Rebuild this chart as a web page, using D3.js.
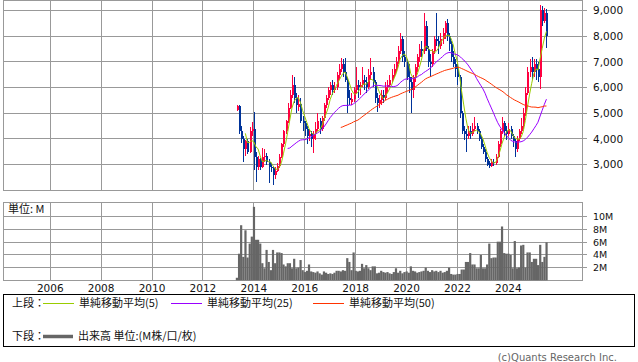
<!DOCTYPE html>
<html><head><meta charset="utf-8">
<script src="https://cdn.jsdelivr.net/npm/d3@7"></script>
<style>body{margin:0;background:#fff}svg{display:block}</style>
</head><body><svg id="c" width="638" height="362"></svg>
<script>
// monthly bars, first = May 2013
const startYear = 2013, startMonth = 4;
const open = [
5130,5270,4300,4000,3600,3900,3500,4300,4400,3300,
2900,3200,2900,3300,3350,3100,2900,2850,2600,2750,
2950,3300,3800,4300,4700,5200,5700,6100,5600,5250,
5350,4700,4600,4400,4100,4200,4000,4200,4400,4700,
4400,4800,5300,5600,5900,6100,5900,6000,6500,6700,
6900,6600,6300,5600,5450,5550,5900,6100,6000,6100,
6300,6200,6000,6500,6600,6200,5600,5400,5500,5700,
5600,6000,6100,6300,6500,6700,7000,7400,7900,7200,
7000,6400,6200,5900,6400,6800,7200,7500,7400,8400,
7500,7000,6900,7400,7900,7800,7600,7900,8100,8500,
8000,7700,7200,6900,6700,6400,5000,4300,4200,4100,
4300,4200,4400,4500,4300,4000,3700,3500,3200,3050,
2950,3100,3050,3300,3800,4300,4600,4300,4200,4400,
4100,3900,3600,4000,4300,4500,5000,5800,6600,6800,
6600,6900,6700,6400,9000,8600,8900];
const high = [
5300,5320,4500,4100,3950,4000,4450,4650,5050,3500,
3350,3250,3640,3600,3450,3200,3050,2950,2900,3050,
3400,3850,4350,4750,5400,5900,6480,6400,5800,5700,
5600,4900,4700,4500,4400,4300,4300,4650,5000,4800,
4900,5400,5700,6000,6200,6300,6200,6600,6900,7140,
7100,7140,6400,5900,5800,6000,6800,6300,6200,6800,
6500,6400,6700,7140,6800,6300,5800,5700,5900,5900,
6200,6300,6500,6700,6900,7200,7600,8100,8000,7400,
7100,6900,6400,6500,6900,7300,7700,7800,8880,8600,
7600,7300,7500,8000,8880,8000,8100,8300,8600,8680,
8100,7800,7400,7100,6900,6500,5100,4500,4400,4500,
4500,4600,4860,4600,4400,4100,3800,3600,3300,3150,
3200,3200,3400,3900,4400,4860,4700,4500,4600,4500,
4200,4000,4100,4400,4800,5200,6000,6800,7100,7180,
7100,7100,7000,9200,9150,9100,9050];
const low = [
5100,4200,3850,3100,3350,3400,3450,4100,2800,2320,
2800,2800,2850,3100,3000,2270,2700,2190,2450,2700,
2850,3250,3700,4200,4600,5150,5600,5400,5000,5100,
4600,4300,4100,3800,3900,3700,3450,3950,4300,4200,
4300,4700,5200,5500,5700,5700,5800,5900,6300,6600,
6400,6200,5000,5300,5300,5450,5800,5600,5700,6000,
5900,5800,5950,6300,6000,5400,5040,5200,5300,5400,
5500,5800,6000,6200,6400,6600,6900,7300,7000,6800,
6300,5800,5000,5600,6200,6600,7000,7200,7300,7400,
6800,6400,6800,7300,7600,7300,7500,7700,7900,7800,
7400,7000,6800,6400,6100,4800,4200,3950,3480,4000,
4000,4100,4300,4200,3900,3600,3400,3100,2950,2880,
2900,2950,3000,3250,3700,4200,4100,3950,4100,4000,
3700,3300,3500,3900,4200,4400,4900,5700,6400,6300,
6400,6300,6200,5950,8400,8500,7550];
const close = [
5270,4300,4000,3600,3900,3500,4300,4400,3300,2900,
3200,2900,3300,3350,3100,2900,2850,2600,2750,2950,
3300,3800,4300,4700,5200,5700,6100,5600,5300,5350,
4700,4600,4400,4100,4200,4000,4200,4400,4700,4400,
4800,5300,5600,5900,6100,5900,6000,6500,6700,6900,
6600,6300,5600,5500,5550,5900,6100,6000,6100,6300,
6200,6000,6500,6600,6200,5600,5400,5500,5700,5600,
6000,6100,6300,6500,6700,7000,7400,7900,7200,7000,
6400,6200,5900,6400,6800,7200,7500,7400,8400,7500,
7000,6900,7400,7900,7800,7600,7900,8100,8500,8000,
7700,7200,6900,6700,6400,5000,4300,4200,4100,4300,
4200,4400,4500,4300,4000,3700,3500,3200,3000,2950,
3100,3050,3300,3800,4300,4600,4300,4200,4400,4100,
3900,3600,4000,4300,4500,5000,5800,6600,6800,6600,
6900,6700,6400,9000,8600,8900,8000];
// volume in millions
const volume = [
0.4,4.2,8.7,3.7,7.9,3.6,5.8,6.9,11.6,6.4,
6.4,5.8,2.7,1.9,4.8,2.9,1.6,4.8,2.7,4.4,
4.4,4.3,2.5,2.2,2.7,2.7,1.9,3.4,1.9,2.0,
3.2,1.6,1.3,1.5,2.5,1.4,1.3,1.2,1.4,1.1,
0.9,1.4,1.2,1.0,1.1,1.0,1.2,1.5,1.5,1.4,
1.6,1.5,3.5,2.9,1.6,4.4,1.5,1.4,1.5,2.6,
1.9,2.4,1.9,1.6,2.2,2.2,1.1,1.2,1.5,1.3,
1.2,1.3,1.1,1.0,1.3,1.9,1.2,1.5,1.1,1.3,
1.4,1.2,2.2,1.5,1.4,1.2,1.3,1.4,1.5,2.0,
1.5,1.3,1.6,1.4,1.5,1.3,1.5,1.2,1.3,1.5,
2.0,1.0,0.9,0.9,1.0,1.0,1.7,1.7,2.9,2.9,
4.3,2.5,2.5,1.9,1.9,4.0,1.9,1.9,2.5,5.8,
3.5,3.6,3.6,6.1,6.1,8.5,4.3,4.2,4.2,4.0,
1.9,6.2,1.9,2.0,5.5,5.6,2.0,4.4,4.4,2.9,
3.4,3.4,2.4,5.6,2.9,3.7,6.0];
const priceTicks = [3000,4000,5000,6000,7000,8000,9000];
const volTicks = [2,4,6,8,10];
const yearTicks = [2006,2008,2010,2012,2014,2016,2018,2020,2022,2024];
const maPeriods = [5,25,50];
const maColors = ["#99cc00","#9900ff","#ff3300"];
const maLabels = ["単純移動平均(5)","単純移動平均(25)","単純移動平均(50)"];

const svg = d3.select("#c");
const L = 3.3, R = 582.7, pTop = 0.3, pBot = 190.3, vTop = 202.3, vBot = 280.3;
const dates = close.map((_, i) => new Date(startYear, startMonth + i, 1));
const x = d3.scaleTime().domain([new Date(2004,1,27), new Date(2026,11,3)]).range([L, R]);
const y = d3.scaleLinear().domain([2000, 9389]).range([pBot, pTop]);
const yv = d3.scaleLinear().domain([0, 12.32]).range([vBot, vTop]);
const grid = "#999";
const crisp = v => Math.floor(v) + 0.5;
const tickFont = "DejaVu Sans, sans-serif";
const jpFont = "'Noto Sans CJK JP', sans-serif";

function panel(top, bot, yscale, ticks) {
  const g = svg.append("g");
  g.selectAll(".h").data(ticks).join("line")
    .attr("x1", L).attr("x2", R)
    .attr("y1", d => crisp(yscale(d))).attr("y2", d => crisp(yscale(d)))
    .attr("stroke", grid).attr("stroke-width", 1);
  g.selectAll(".v").data(yearTicks).join("line")
    .attr("x1", d => crisp(x(new Date(d,0,1)))).attr("x2", d => crisp(x(new Date(d,0,1))))
    .attr("y1", top).attr("y2", bot)
    .attr("stroke", grid).attr("stroke-width", 1);
  g.append("rect").attr("x", crisp(L)).attr("y", crisp(top))
    .attr("width", Math.floor(R) - Math.floor(L)).attr("height", Math.floor(bot) - Math.floor(top))
    .attr("fill", "none").attr("stroke", grid);
  // tick marks on right
  g.selectAll(".t").data(ticks).join("line")
    .attr("x1", Math.floor(R)).attr("x2", Math.floor(R) + 5)
    .attr("y1", d => crisp(yscale(d))).attr("y2", d => crisp(yscale(d)))
    .attr("stroke", grid);
  return g;
}
panel(pTop, pBot, y, priceTicks);
panel(vTop, vBot, yv, volTicks);

// price labels
svg.append("g").selectAll("text").data(priceTicks).join("text")
  .attr("x", 593).attr("y", d => y(d)).attr("dy", "0.36em")
  .attr("font-family", tickFont).attr("font-size", 10.5).attr("fill", "#111")
  .text(d => d3.format(",")(d));
svg.append("g").selectAll("text").data(volTicks).join("text")
  .attr("x", 593).attr("y", d => yv(d)).attr("dy", "0.36em")
  .attr("font-family", tickFont).attr("font-size", 9.5).attr("fill", "#111")
  .text(d => d + "M");
svg.append("g").selectAll("text").data(yearTicks).join("text")
  .attr("x", d => x(new Date(d,0,1))).attr("y", 288).attr("dy", "0.36em")
  .attr("text-anchor", "middle")
  .attr("font-family", tickFont).attr("font-size", 10.5).attr("fill", "#111")
  .text(d => d);

// candles
const cg = svg.append("g").attr("shape-rendering", "crispEdges");
const cx = i => Math.round(x(dates[i]));
close.forEach((c, i) => {
  const o = open[i], col = c >= o ? "#ff0040" : "#003399";
  cg.append("rect").attr("x", cx(i)).attr("width", 1)
    .attr("y", y(high[i])).attr("height", Math.max(1, y(low[i]) - y(high[i]))).attr("fill", col);
  const top = y(Math.max(o, c)), bot = y(Math.min(o, c));
  cg.append("rect").attr("x", cx(i) - 0.5).attr("width", 2)
    .attr("y", top).attr("height", Math.max(1, bot - top)).attr("fill", col);
});

// moving averages
maPeriods.forEach((n, k) => {
  const pts = [];
  for (let i = n - 1; i < close.length; i++) {
    pts.push([dates[i], d3.mean(close.slice(i - n + 1, i + 1))]);
  }
  svg.append("path").datum(pts)
    .attr("d", d3.line().x(d => x(d[0])).y(d => y(d[1])))
    .attr("fill", "none").attr("stroke", maColors[k]).attr("stroke-width", 1);
});

// volume
svg.append("g").selectAll("rect").data(volume).join("rect")
  .attr("x", (d, i) => x(dates[i]) - 1).attr("width", 2.2)
  .attr("y", d => yv(d)).attr("height", d => vBot - yv(d))
  .attr("fill", "#666");

// unit label
svg.append("text").attr("x", 8).attr("y", 209.5).attr("dy", "0.36em")
  .attr("font-family", jpFont).attr("font-size", 11).attr("fill", "#111").text("単位: M");

// legend box
svg.append("rect").attr("x", 3.5).attr("y", 294.5).attr("width", 631).attr("height", 52)
  .attr("fill", "none").attr("stroke", "#000");
const lg = svg.append("g").attr("font-family", jpFont).attr("font-size", 11).attr("fill", "#111");
lg.append("text").attr("x", 12).attr("y", 303.5).attr("dy", "0.36em").text("上段：");
const lx = [43, 171, 313];
maLabels.forEach((t, k) => {
  lg.append("line").attr("x1", lx[k]).attr("x2", lx[k] + 31).attr("y1", 303.5).attr("y2", 303.5)
    .attr("stroke", maColors[k]).attr("stroke-width", 1);
  lg.append("text").attr("x", lx[k] + 36).attr("y", 303.5).attr("dy", "0.36em").text(t);
});
lg.append("text").attr("x", 12).attr("y", 336.5).attr("dy", "0.36em").text("下段：");
lg.append("line").attr("x1", 43).attr("x2", 73).attr("y1", 336.5).attr("y2", 336.5)
  .attr("stroke", "#666").attr("stroke-width", 3.5);
lg.append("text").attr("x", 78).attr("y", 336.5).attr("dy", "0.36em").text("出来高 単位:(M株/口/枚)");

svg.append("text").attr("x", 617).attr("y", 357).attr("dy", "0.36em").attr("text-anchor", "end")
  .attr("font-family", tickFont).attr("font-size", 10).attr("fill", "#666")
  .text("(c)Quants Research Inc.");
</script></body></html>
